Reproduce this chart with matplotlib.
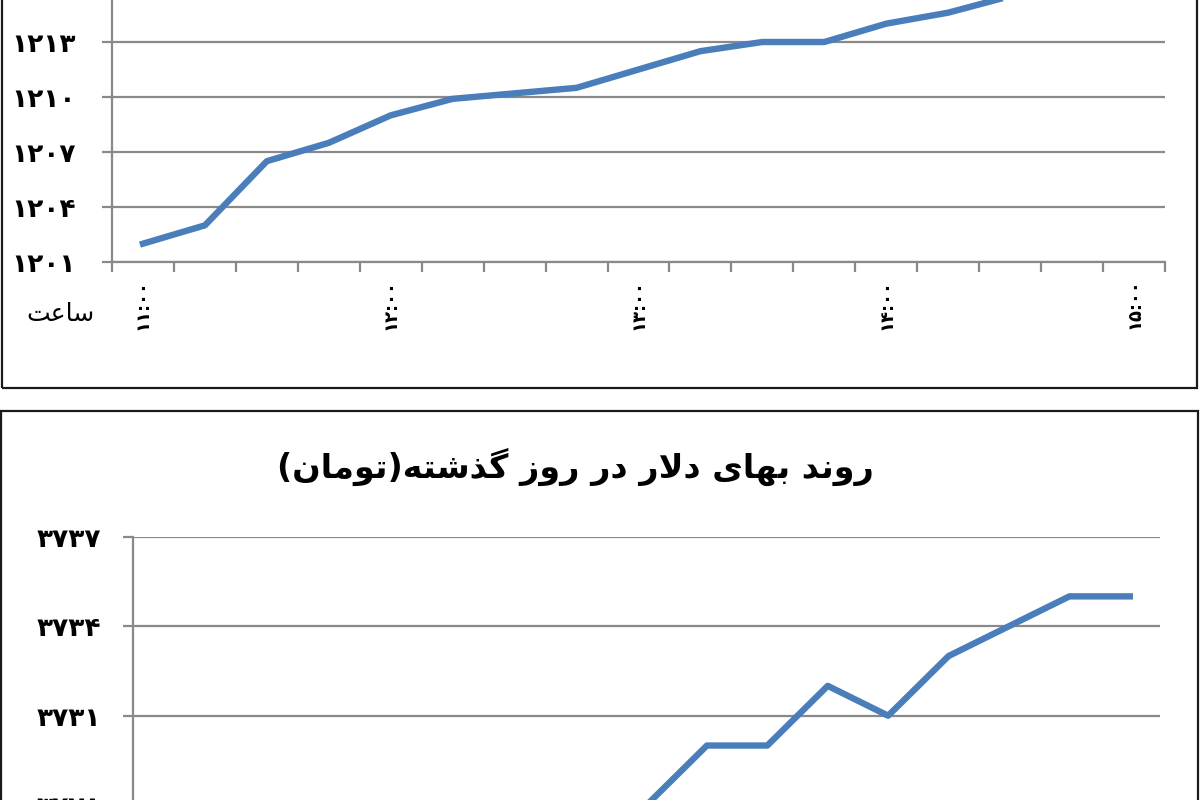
import numpy as np
import matplotlib.pyplot as plt
from matplotlib.patches import Rectangle
from matplotlib.ticker import FixedLocator, FuncFormatter

# 15-minute samples from 11:00 to 15:00
hour_labels = ['۱۱:۰۰', '۱۲:۰۰', '۱۳:۰۰', '۱۴:۰۰', '۱۵:۰۰']
hour_pos = [0, 4, 8, 12, 16]
upper_values = [1202.0, 1203.0, 1206.5, 1207.5, 1209.0, 1209.9, 1210.2, 1210.5,
                1211.5, 1212.5, 1213.0, 1213.0, 1214.0, 1214.6, 1215.5, 1215.5, np.nan]
dollar_values = [3722, 3722, 3723, 3724, 3724, 3725, 3726, 3727,
                 3728, 3730, 3730, 3732, 3731, 3733, 3734, 3735, 3735]
upper_yticks = [1201, 1204, 1207, 1210, 1213]
dollar_yticks = [3719, 3722, 3725, 3728, 3731, 3734, 3737]

title_text = 'روند بهای دلار در روز گذشته(تومان)'
xlabel_text = 'ساعت'

LINE = '#4a7ebb'
GRID = '#898989'

# matplotlib does no arabic shaping, so pick presentation forms by hand
FORMS = {
    'ا': ('\uFE8D', '\uFE8E', None, None),
    'ب': ('\uFE8F', '\uFE90', '\uFE91', '\uFE92'),
    'ت': ('\uFE95', '\uFE96', '\uFE97', '\uFE98'),
    'د': ('\uFEA9', '\uFEAA', None, None),
    'ذ': ('\uFEAB', '\uFEAC', None, None),
    'ر': ('\uFEAD', '\uFEAE', None, None),
    'ز': ('\uFEAF', '\uFEB0', None, None),
    'س': ('\uFEB1', '\uFEB2', '\uFEB3', '\uFEB4'),
    'ش': ('\uFEB5', '\uFEB6', '\uFEB7', '\uFEB8'),
    'ع': ('\uFEC9', '\uFECA', '\uFECB', '\uFECC'),
    'ل': ('\uFEDD', '\uFEDE', '\uFEDF', '\uFEE0'),
    'م': ('\uFEE1', '\uFEE2', '\uFEE3', '\uFEE4'),
    'ن': ('\uFEE5', '\uFEE6', '\uFEE7', '\uFEE8'),
    'ه': ('\uFEE9', '\uFEEA', '\uFEEB', '\uFEEC'),
    'و': ('\uFEED', '\uFEEE', None, None),
    'ی': ('\uFBFC', '\uFBFD', '\uFBFE', '\uFBFF'),
    'گ': ('\uFB92', '\uFB93', '\uFB94', '\uFB95'),
}


def shape(s):
    out = []
    i = 0
    n = len(s)
    while i < n:
        c = s[i]
        if c not in FORMS:
            out.append(c)
            i += 1
            continue
        prev = s[i - 1] if i > 0 else ''
        joins_prev = prev in FORMS and FORMS[prev][2] is not None
        if c == 'ل' and i + 1 < n and s[i + 1] == 'ا':
            out.append('\uFEFC' if joins_prev else '\uFEFB')
            i += 2
            continue
        nxt = s[i + 1] if i + 1 < n else ''
        joins_next = FORMS[c][2] is not None and nxt in FORMS
        iso, fin, ini, med = FORMS[c]
        if joins_prev and joins_next:
            out.append(med)
        elif joins_prev:
            out.append(fin)
        elif joins_next:
            out.append(ini)
        else:
            out.append(iso)
        i += 1
    vis = ''.join(reversed(out))
    return vis.translate(str.maketrans('()', ')('))


def fa_num(v, pos=None):
    return str(int(round(v))).translate(str.maketrans('0123456789', '۰۱۲۳۴۵۶۷۸۹'))


plt.rcParams['font.family'] = ['DejaVu Sans']

fig = plt.figure(figsize=(12, 8), dpi=100)
W, H = 1200.0, 800.0

# panel frames (both run past the cropped edges)
fig.add_artist(Rectangle((2 / W, 1 - 388 / H), 1195 / W, 0.6, transform=fig.transFigure,
                         fill=False, ec='#1a1a1a', lw=1.6, clip_on=False))
fig.add_artist(Rectangle((1 / W, -0.2), 1197 / W, 0.2 + 1 - 411 / H, transform=fig.transFigure,
                         fill=False, ec='#1a1a1a', lw=1.6, clip_on=False))

x = np.arange(len(dollar_values))


def style(ax, yticks, pad):
    for s in ['top', 'right']:
        ax.spines[s].set_visible(False)
    ax.spines['left'].set_color(GRID)
    ax.spines['left'].set_linewidth(1.6)
    ax.spines['bottom'].set_color(GRID)
    ax.spines['bottom'].set_linewidth(1.6)
    ax.set_xlim(-0.5, len(x) - 0.5)
    ax.yaxis.set_major_locator(FixedLocator(yticks))
    ax.yaxis.set_major_formatter(FuncFormatter(fa_num))
    ax.yaxis.grid(True, color=GRID, lw=1.6)
    ax.set_axisbelow(True)
    ax.tick_params(axis='y', length=7, width=1.6, color=GRID, pad=pad,
                   labelsize=19)
    for t in ax.get_yticklabels():
        t.set_fontweight('bold')
    ax.xaxis.set_minor_locator(FixedLocator(np.arange(-0.5, len(x), 1)))
    ax.tick_params(axis='x', which='minor', length=7, width=1.6, color=GRID)


# upper chart (its top is cropped off)
ax1 = fig.add_axes([112 / W, 1 - 262 / H, (1165 - 112) / W, 275 / H])
ax1.plot(x, upper_values, color=LINE, lw=4.6, solid_joinstyle='round')
ax1.set_ylim(1201, 1216)
style(ax1, upper_yticks, 19)
ax1.set_xticks(hour_pos)
ax1.set_xticklabels(hour_labels, rotation=90, fontsize=13, fontweight='bold')
ax1.tick_params(axis='x', which='major', length=0, pad=12)
fig.text(95 / W, 1 - 314 / H, shape(xlabel_text), ha='right', va='center', fontsize=18)

# lower chart (its bottom is cropped off)
ax2 = fig.add_axes([133 / W, 1 - 1073.7 / H, (1160 - 133) / W, 537 / H])
ax2.plot(x, dollar_values, color=LINE, lw=4.6, solid_joinstyle='round')
ax2.set_ylim(3719, 3737)
style(ax2, dollar_yticks, 16)
ax2.set_xticks([])

fig.text(575 / W, 1 - 467 / H, shape(title_text), ha='center', va='center',
         fontsize=24, fontweight='bold')

fig.savefig('out.png', dpi=100)
